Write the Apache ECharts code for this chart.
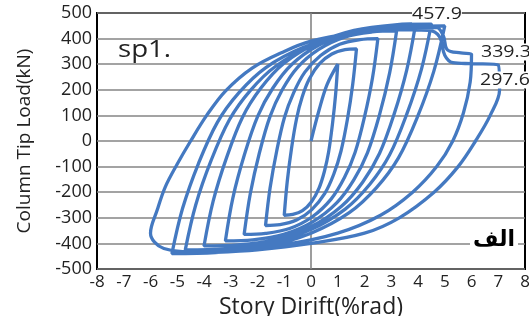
<!DOCTYPE html>
<html>
<head>
<meta charset="utf-8">
<script src="https://cdn.jsdelivr.net/npm/echarts@6/dist/echarts.min.js"></script>
<style>
html,body{margin:0;padding:0;background:#fff;}
#chart{width:529px;height:316px;}
</style>
</head>
<body>
<div id="chart"></div>
<script>
// ---- data ----
const xTicks = [-8,-7,-6,-5,-4,-3,-2,-1,0,1,2,3,4,5,6,7,8];
const yTicks = [-500,-400,-300,-200,-100,0,100,200,300,400,500];

const start = [[0,0],[0.3,120],[0.6,220],[1.0,300]];
const cycle1 = [[0.92,182],[0.80,64],[0.66,-42],[0.50,-119],[0.30,-184],[0.02,-237],[-0.32,-272],[-0.68,-287],[-1.0,-290],
  [-0.89,-160],[-0.73,-30],[-0.54,87],[-0.33,172],[-0.06,243],[0.32,302],[0.78,340],[1.27,357],[1.7,360]];
const cycle2 = [[1.56,222],[1.36,84],[1.12,-40],[0.85,-130],[0.51,-206],[0.03,-268],[-0.54,-309],[-1.16,-327],[-1.7,-330],
  [-1.53,-184],[-1.28,-38],[-0.99,93],[-0.65,188],[-0.23,269],[0.36,334],[1.07,378],[1.83,396],[2.5,400]];
const cycle3 = [[2.3,247],[2.0,94],[1.65,-44],[1.25,-143],[0.75,-227],[0.05,-296],[-0.8,-342],[-1.7,-361],[-2.5,-365],
  [-2.27,-206],[-1.93,-47],[-1.53,96],[-1.08,199],[-0.51,287],[0.29,358],[1.26,406],[2.29,426],[3.2,430]];
const cycle4 = [[2.94,266],[2.56,102],[2.11,-46],[1.6,-152],[0.96,-242],[0.06,-316],[-1.02,-365],[-2.18,-386],[-3.2,-390],
  [-2.92,-222],[-2.49,-54],[-1.99,97],[-1.43,206],[-0.72,299],[0.28,374],[1.49,425],[2.76,446],[3.9,450]];
const cycle5 = [[3.58,278],[3.11,106],[2.56,-49],[1.93,-161],[1.14,-255],[0.03,-333],[-1.31,-384],[-2.74,-406],[-4.0,-410],
  [-3.66,-236],[-3.15,-63],[-2.56,93],[-1.88,206],[-1.03,302],[0.17,380],[1.61,432],[3.14,454],[4.5,458]];
const cycle6 = [[4.13,281],[3.58,105],[2.94,-54],[2.2,-169],[1.28,-266],[-0.01,-346],[-1.57,-399],[-3.23,-421],[-4.7,-425],
  [-4.31,-250],[-3.73,-75],[-3.05,83],[-2.28,196],[-1.31,293],[0.05,371],[1.7,424],[3.45,446],[5.0,450]];
const cycle7 = [[4.59,272],[3.98,94],[3.27,-66],[2.45,-182],[1.43,-280],[0.0,-360],[-1.73,-413],[-3.57,-436],[-5.2,-440],
  [-4.8,-263],[-4.2,-86],[-3.5,73],[-2.7,188],[-1.7,286],[-0.3,365],[1.4,418],[3.2,441],[4.7,443],[4.95,410],[5.1,356],[5.6,344],[6.0,339]];
const cycle8 = [[5.95,230],[5.7,110],[5.3,0],[4.7,-100],[3.8,-200],[2.6,-290],[1.0,-360],[-1.0,-405],[-3.2,-428],[-4.8,-432],[-5.5,-420],[-5.85,-395],[-6.0,-360],
  [-5.75,-270],[-5.45,-180],[-5.0,-90],[-4.5,0],[-3.9,100],[-3.2,195],[-2.2,285],[-1.0,350],[0,390],[1.5,420],[3.0,435],[4.4,432],[4.8,408],[5.0,335],[5.3,306],[6.0,302],[7.0,297]];
const cycle9 = [[7.05,200],[6.7,100],[6.15,0],[5.5,-100],[4.6,-200],[3.3,-300],[2.0,-360],[0,-400],[-2,-425],[-4,-437],[-5,-440]];

const annotations = [
  {text:'457.9', x:412, y:14},
  {text:'339.3', x:481, y:52},
  {text:'297.6', x:480, y:80}
];

// ---- chart ----
const curve = [].concat(start, cycle1, cycle2, cycle3, cycle4, cycle5, cycle6, cycle7, cycle8, cycle9);
const chart = echarts.init(document.getElementById('chart'), null, {renderer:'canvas'});
const FONT = 'Open Sans';
const graphics = annotations.map(a => ({
  type:'text', x:a.x, y:a.y, z:100, scaleX:1.15,
  style:{text:a.text, fill:'#222', font:'17px "' + FONT + '"', verticalAlign:'middle', align:'left', backgroundColor:'#fff'}
}));
graphics.push({type:'text', x:118, y:50, z:100, scaleX:1.2,
  style:{text:'sp1.', fill:'#222', font:'23px "' + FONT + '"', verticalAlign:'middle', align:'left'}});
graphics.push({type:'text', x:470, y:240, z:100,
  style:{text:'الف', fill:'#000', font:'bold 22px "DejaVu Sans"', verticalAlign:'middle', align:'left', backgroundColor:'#fff', padding:[0,3,0,3]}});

chart.setOption({
  animation:false,
  backgroundColor:'#fff',
  grid:{left:97, right:4, top:13, bottom:47, containLabel:false, outerBoundsMode:'none',
    show:true, borderColor:'#000', borderWidth:2, backgroundColor:'transparent'},
  xAxis:{
    type:'value', min:-8, max:8, interval:1,
    name:'Story Dirift(%rad)', nameLocation:'middle', nameGap:19,
    nameTextStyle:{fontSize:23, color:'#222', fontFamily:FONT},
    axisLine:{show:false}, axisTick:{show:false},
    axisLabel:{fontSize:17, color:'#222', fontFamily:FONT, margin:5, showMinLabel:true, showMaxLabel:true},
    splitLine:{show:false}
  },
  yAxis:{
    type:'value', min:-500, max:500, interval:100,
    name:'Column Tip Load(kN)', nameLocation:'middle', nameGap:63, nameRotate:90,
    nameTextStyle:{fontSize:19, color:'#222', fontFamily:FONT},
    axisLine:{show:false}, axisTick:{show:false},
    axisLabel:{fontSize:18, color:'#222', fontFamily:FONT, margin:5},
    splitLine:{show:true, lineStyle:{color:'#858585', width:1.6}}
  },
  graphic:graphics,
  series:[{
    type:'line', data:curve, showSymbol:false, smooth:0.35,
    lineStyle:{color:'#4479c1', width:3.3},
    markLine:{silent:true, symbol:'none', label:{show:false},
      lineStyle:{color:'#858585', width:1.6, type:'solid'},
      data:[{xAxis:0}], z:1}
  }]
});
</script>
</body>
</html>
